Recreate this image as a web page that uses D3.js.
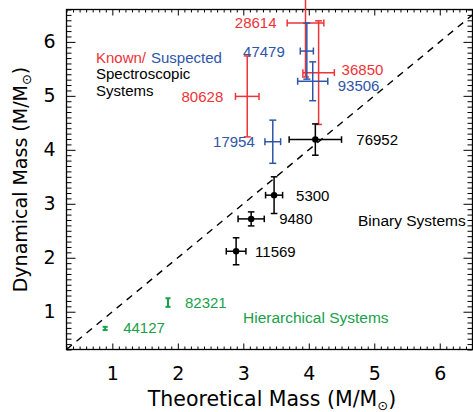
<!DOCTYPE html>
<html>
<head>
<meta charset="utf-8">
<script src="https://cdn.jsdelivr.net/npm/d3@7"></script>
<style>
  body { margin: 0; background: #fff; }
  svg { display: block; font-family: "Liberation Sans", Arial, sans-serif; }
</style>
</head>
<body>
<svg id="chart" width="473" height="412"></svg>
<script>
// binary systems (black)
const binaryNames = ["76952", "5300", "9480", "11569"];
const binaryTheo = [4.10, 3.47, 3.12, 2.89];
const binaryTheoErr = [0.40, 0.13, 0.20, 0.15];
const binaryDyn = [4.19, 3.16, 2.72, 2.12];
const binaryDynErr = [0.29, 0.34, 0.13, 0.25];

// known spectroscopic (red)
const knownNames = ["28614", "80628", "36850"];
const knownTheo = [3.95, 3.06, 4.15];
const knownTheoErr = [0.28, 0.18, 0.24];
const knownDyn = [6.35, 4.99, 5.43];
const knownDynErr = [1.00, 0.75, 0.96];

// suspected spectroscopic (blue)
const suspNames = ["47479", "93506", "17954"];
const suspTheo = [3.97, 4.06, 3.45];
const suspTheoErr = [0.10, 0.23, 0.12];
const suspDyn = [5.83, 5.27, 4.15];
const suspDynErr = [0.52, 0.36, 0.40];

// hierarchical (green)
const hierNames = ["82321", "44127"];
const hierTheo = [1.85, 0.89];
const hierTheoErr = [0, 0];
const hierDyn = [1.17, 0.69];
const hierDynErr = [0.08, 0.03];

const xTicks = [1, 2, 3, 4, 5, 6];
const yTicks = [1, 2, 3, 4, 5, 6];

const RED = "#ee3338", BLUE = "#2f55a8", GREEN = "#19a04a";
const TITLE_FONT = "DejaVu Sans, Verdana, sans-serif";

// label placement: [dx, dy, anchor]
const labelPos = {
  "28614": [-29, 5.5, "end"], "47479": [-22, 5.5, "end"], "36850": [23, 2, "start"],
  "93506": [25, 9.5, "start"], "80628": [-24, 5.5, "end"], "17954": [-18, 5.5, "end"],
  "76952": [41, 5.5, "start"], "5300": [22, 5.5, "start"], "9480": [28, 5.5, "start"],
  "11569": [19, 5.5, "start"], "82321": [17, 5, "start"], "44127": [18, 5, "start"]
};

const svg = d3.select("#chart");
const pLeft = 66.5, pRight = 472.5, pTop = 9.5, pBottom = 349.5;

const x = d3.scaleLinear().domain([0.3, 6.5]).range([pLeft, pRight]);
const y = d3.scaleLinear().domain([0.3, 6.6]).range([pBottom, pTop]);

const minorX = d3.range(3, 66).map(d => d / 10).filter(d => d % 1 !== 0);
const minorY = d3.range(3, 67).map(d => d / 10).filter(d => d % 1 !== 0);

function tickAxis(axis, pos, vals, size, label, pad) {
  const g = svg.append("g")
    .attr("transform", pos)
    .call(axis.tickValues(vals).tickSizeInner(-size).tickSizeOuter(0).tickPadding(pad)
      .tickFormat(label ? d3.format("d") : ""));
  g.select(".domain").remove();
  g.selectAll("line").attr("stroke", "#000").attr("stroke-width", 1);
  g.selectAll("text").attr("font-size", 19).attr("fill", "#000")
    .attr("font-family", TITLE_FONT);
  return g;
}

tickAxis(d3.axisBottom(x), `translate(0,${pBottom})`, minorX, 3, false, 0);
tickAxis(d3.axisBottom(x), `translate(0,${pBottom})`, xTicks, 6, true, 17);
tickAxis(d3.axisTop(x), `translate(0,${pTop})`, minorX, 3, false, 0);
tickAxis(d3.axisTop(x), `translate(0,${pTop})`, xTicks, 6, false, 0);
tickAxis(d3.axisLeft(y), `translate(${pLeft},0)`, minorY, 5, false, 0);
tickAxis(d3.axisLeft(y), `translate(${pLeft},0)`, yTicks, 9, true, 11);
tickAxis(d3.axisRight(y), `translate(${pRight},0)`, minorY, 5, false, 0);
tickAxis(d3.axisRight(y), `translate(${pRight},0)`, yTicks, 9, false, 0);

svg.append("rect")
  .attr("x", pLeft).attr("y", pTop)
  .attr("width", pRight - pLeft).attr("height", pBottom - pTop)
  .attr("fill", "none").attr("stroke", "#000").attr("stroke-width", 1.3);

// 1:1 line
svg.append("line")
  .attr("x1", x(0.3)).attr("y1", y(0.3))
  .attr("x2", x(6.5)).attr("y2", y(6.5))
  .attr("stroke", "#000").attr("stroke-width", 1.4)
  .attr("stroke-dasharray", "7,6");

function series(names, tx, txe, dy, dye, color, cap, marker, sw) {
  const data = names.map((n, i) => ({name: n, x: tx[i], xe: txe[i], y: dy[i], ye: dye[i]}));
  const g = svg.append("g").attr("stroke", color).attr("stroke-width", sw).attr("fill", "none");
  data.forEach(d => {
    const cx = x(d.x), cy = y(d.y);
    // vertical
    g.append("line").attr("x1", cx).attr("x2", cx).attr("y1", y(d.y + d.ye)).attr("y2", y(d.y - d.ye));
    g.append("line").attr("x1", cx - cap).attr("x2", cx + cap).attr("y1", y(d.y + d.ye)).attr("y2", y(d.y + d.ye));
    g.append("line").attr("x1", cx - cap).attr("x2", cx + cap).attr("y1", y(d.y - d.ye)).attr("y2", y(d.y - d.ye));
    if (d.xe > 0) {
      g.append("line").attr("y1", cy).attr("y2", cy).attr("x1", x(d.x - d.xe)).attr("x2", x(d.x + d.xe));
      g.append("line").attr("y1", cy - cap).attr("y2", cy + cap).attr("x1", x(d.x - d.xe)).attr("x2", x(d.x - d.xe));
      g.append("line").attr("y1", cy - cap).attr("y2", cy + cap).attr("x1", x(d.x + d.xe)).attr("x2", x(d.x + d.xe));
    }
    if (marker) {
      svg.append("circle").attr("cx", cx).attr("cy", cy).attr("r", 3.2).attr("fill", color);
    }
    const lp = labelPos[d.name];
    svg.append("text")
      .attr("x", cx + lp[0]).attr("y", cy + lp[1])
      .attr("text-anchor", lp[2])
      .attr("font-size", 15).attr("fill", color)
      .text(d.name);
  });
}

series(knownNames, knownTheo, knownTheoErr, knownDyn, knownDynErr, RED, 3.5, false, 1.5);
series(suspNames, suspTheo, suspTheoErr, suspDyn, suspDynErr, BLUE, 3.5, false, 1.5);
series(binaryNames, binaryTheo, binaryTheoErr, binaryDyn, binaryDynErr, "#000", 3.3, true, 1.5);
series(hierNames, hierTheo, hierTheoErr, hierDyn, hierDynErr, GREEN, 2.5, false, 2);

// annotations
const t1 = svg.append("text").attr("x", 96).attr("y", 63).attr("font-size", 15);
t1.append("tspan").attr("fill", RED).text("Known/");
t1.append("tspan").attr("fill", BLUE).attr("x", 151).text("Suspected");
svg.append("text").attr("x", 96).attr("y", 79).attr("font-size", 15).text("Spectroscopic");
svg.append("text").attr("x", 96).attr("y", 96).attr("font-size", 15).text("Systems");
svg.append("text").attr("x", 358).attr("y", 226).attr("font-size", 15.5).text("Binary Systems");
svg.append("text").attr("x", 243).attr("y", 323).attr("font-size", 15.5).attr("fill", GREEN).text("Hierarchical Systems");

// axis titles
const xt = svg.append("text").attr("x", 272).attr("y", 406)
  .attr("text-anchor", "middle").attr("font-size", 20.5).attr("font-family", TITLE_FONT);
xt.append("tspan").text("Theoretical Mass (M/M");
xt.append("tspan").attr("font-size", 13).attr("dy", 4).text("⊙");
xt.append("tspan").attr("dy", -4).text(")");

const yt = svg.append("text")
  .attr("transform", `translate(27,${(pTop + pBottom) / 2}) rotate(-90)`)
  .attr("text-anchor", "middle").attr("font-size", 19).attr("font-family", TITLE_FONT);
yt.append("tspan").text("Dynamical Mass (M/M");
yt.append("tspan").attr("font-size", 13).attr("dy", 4).text("⊙");
yt.append("tspan").attr("dy", -4).text(")");
</script>
</body>
</html>
